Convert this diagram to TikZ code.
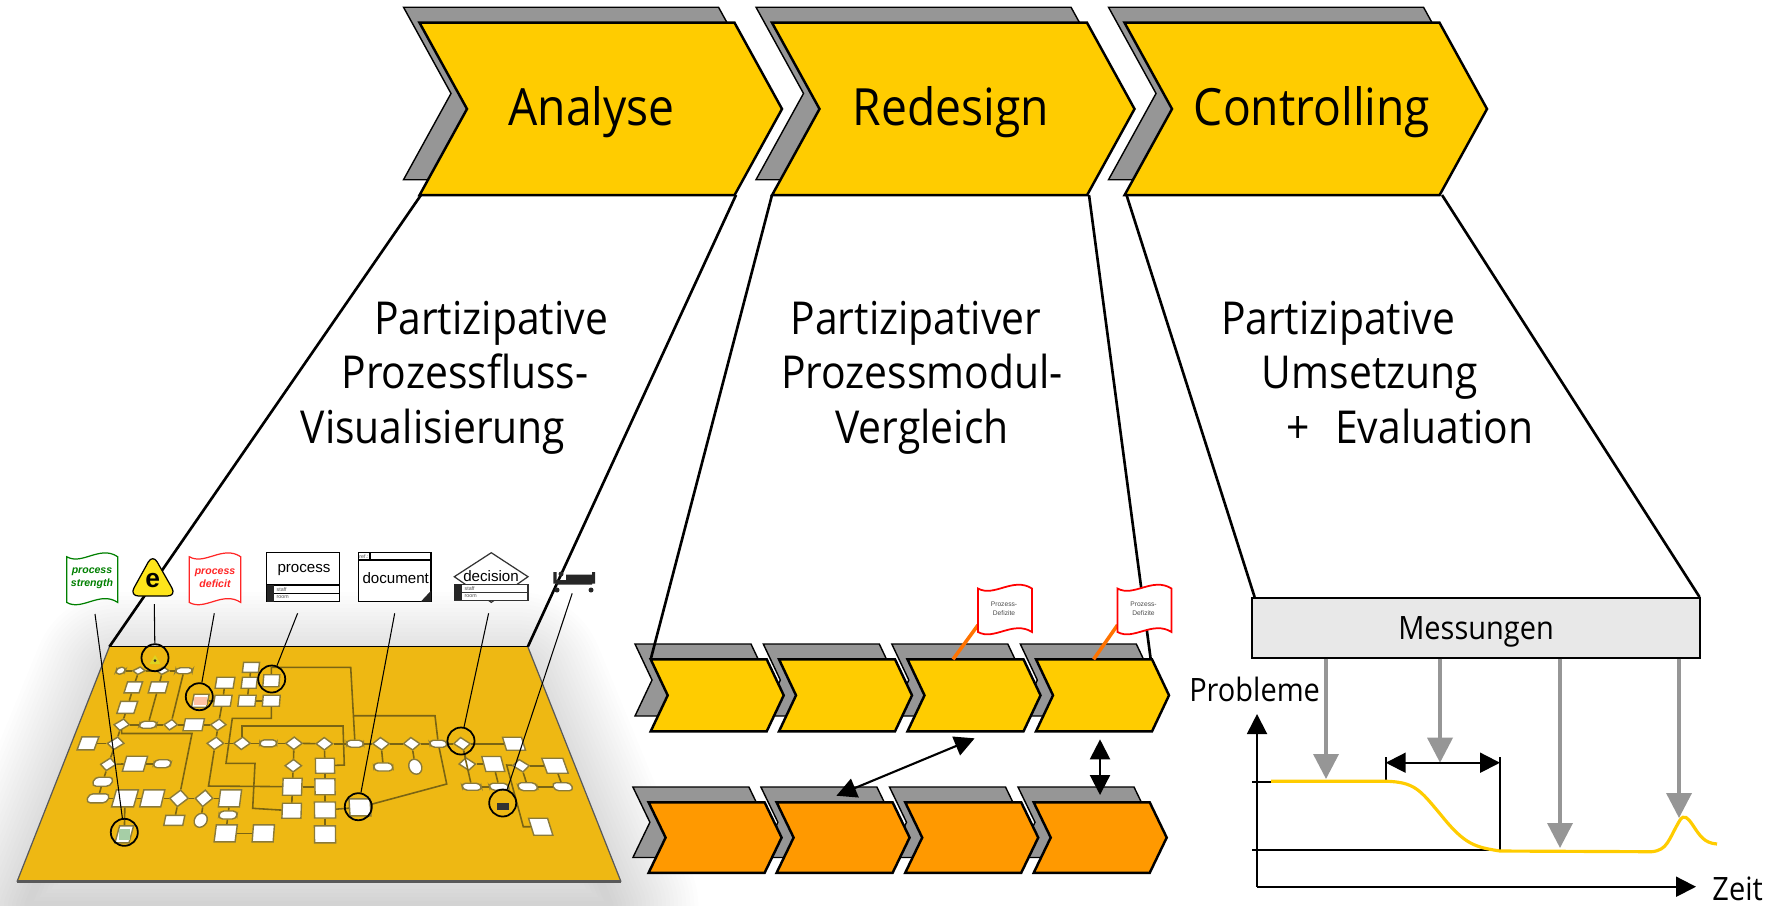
\documentclass[tikz,border=0pt]{standalone}
\usepackage{fontspec}
\setmainfont[FakeStretch=0.9]{Open Sans}
\newfontfamily\helvfont{Liberation Sans}
\usetikzlibrary{arrows.meta,positioning,shapes.geometric}
\definecolor{chevyellow}{HTML}{FFCC00}
\definecolor{chevorange}{HTML}{FF9900}
\definecolor{chevgray}{HTML}{969696}
\definecolor{plategold}{HTML}{EEB813}
\definecolor{miniedge}{HTML}{8A7A3A}
\definecolor{minilink}{HTML}{7A6413}
% chevron: x, y (top left), width, height, tip depth, style
\newcommand{\chevron}[6]{%
  \draw[#6] (#1,#2) -- (#1+#3-#5,#2) -- (#1+#3,#2+#4/2) -- (#1+#3-#5,#2+#4)
    -- (#1,#2+#4) -- (#1+#5,#2+#4/2) -- cycle;}
% wavy flag: x, y (top left), width, side height, style
\newcommand{\flagshape}[5]{%
  \draw[#5] (#1,#2) .. controls (#1+#3*.3,#2+9) and (#1+#3*.65,#2-12) .. (#1+#3,#2)
    -- (#1+#3,#2+#4) .. controls (#1+#3*.65,#2+#4-12) and (#1+#3*.3,#2+#4+9) .. (#1,#2+#4) -- cycle;}

\begin{document}
\begin{tikzpicture}[
    x=0.01cm, y=-0.01cm,
    >={Triangle[length=2mm,width=2mm]},
    line join=miter,
    chevbody/.style={draw=black, line width=0.7pt},
    chevshadow/.style={fill=chevgray},
    funnel/.style={draw=black, line width=0.75pt},
    headtext/.style={font=\fontsize{14.6}{16}\selectfont, anchor=base},
    steptext/.style={font=\fontsize{12.9}{14}\selectfont, anchor=base},
    labeltext/.style={font=\fontsize{9.15}{11}\selectfont, anchor=base},
    symboltext/.style={font=\helvfont\fontsize{4.3}{5}\selectfont, inner sep=0pt},
    flagtext/.style={font=\helvfont\bfseries\itshape\fontsize{3}{3.8}\selectfont, align=center, inner sep=0pt},
    tinytext/.style={font=\helvfont\fontsize{1.5}{2}\selectfont, inner sep=0pt, text=black!70},
    defflag/.style={draw=red, fill=white, line width=0.5pt},
    mbox/.style={rectangle, draw=miniedge, fill=white, line width=0.4pt, inner sep=0pt},
    mrnd/.style={mbox, rounded corners=1.2pt},
    mdia/.style={mbox, diamond},
    mell/.style={mbox, ellipse},
    mline/.style={draw=minilink, line width=0.45pt},
    lens/.style={circle, draw=black, line width=0.5pt, minimum size=0.27cm, inner sep=0pt},
    leader/.style={draw=black, line width=0.3pt},
    grayarrow/.style={draw=chevgray, line width=1pt, -{Triangle[length=2.5mm,width=2.5mm]}},
    axisline/.style={draw=black, line width=0.55pt},
]
  \useasboundingbox (0,0) rectangle (1774,905);

  % glow below the plate
  \begin{scope}
    \clip (0,0) rectangle (1774,905);
    \foreach \w in {8,16,...,176}
      \draw[black, opacity=0.009, line width=\w*0.01cm, line join=round]
        (120,680) -- (517,680) -- (610,905) -- (28,905) -- cycle;
  \end{scope}

  % top chevrons
  \foreach \x in {419.5,772,1124.5}
    {\chevron{\x-16}{22.7-15.5}{362.5}{172.5}{47.5}{chevshadow}}
  \foreach \x in {419.5,772,1124.5}
    {\chevron{\x}{22.7}{362.5}{172.5}{47.5}{chevbody, fill=chevyellow}}
  \node[headtext] (analyse) at (591.5,125.5) {Analyse};
  \node[headtext] (redesign) at (951,125.5) {Redesign};
  \node[headtext] (controlling) at (1312,125.5) {Controlling};

  % lower chevron rows
  \foreach \x in {650.7,779,907.5,1036}
    {\chevron{\x-15.7}{659.3-15.3}{133}{72}{17}{chevshadow}}
  \foreach \x in {648.6,776.6,905.2,1033.7}
    {\chevron{\x-15.7}{802.3-15.3}{133}{70.5}{17}{chevshadow}}

  % funnels
  \coordinate (anaL) at (421,195);
  \coordinate (anaR) at (736,195);
  \coordinate (redL) at (772,195);
  \coordinate (redR) at (1089,195);
  \coordinate (conL) at (1126.5,195);
  \coordinate (conR) at (1442,195);
  \coordinate (plateTL) at (109.4,646.7);
  \coordinate (plateTR) at (527.8,646.7);
  \coordinate (rowL) at (650.7,659.3);
  \coordinate (rowR) at (1150.7,659.3);
  \coordinate (messL) at (1254.6,597);
  \coordinate (messR) at (1699.5,597);
  \draw[funnel] (anaL) -- (plateTL);
  \draw[funnel] (anaR) -- (plateTR);
  \draw[funnel] (redL) -- (rowL);
  \draw[funnel] (redR) -- (rowR);
  \draw[funnel] (conL) -- (messL);
  \draw[funnel] (conR) -- (messR);

  \foreach \x in {650.7,779,907.5,1036}
    {\chevron{\x}{659.3}{133}{72}{17}{chevbody, fill=chevyellow}}
  \foreach \x in {648.6,776.6,905.2,1033.7}
    {\chevron{\x}{802.3}{133}{70.5}{17}{chevbody, fill=chevorange}}

  % step texts
  \node[steptext] (partA) at (491,334) {Partizipative};
  \node[steptext] (partB) at (465,388) {Prozessfluss-};
  \node[steptext] (partC) at (433,443) {Visualisierung};
  \node[steptext] (modA) at (916,334) {Partizipativer};
  \node[steptext] (modB) at (922,388) {Prozessmodul-};
  \node[steptext] (modC) at (922,443) {Vergleich};
  \node[steptext] (umsA) at (1338,334) {Partizipative};
  \node[steptext] (umsB) at (1370,388) {Umsetzung};
  \node[steptext] (umsC) at (1410,443) {+\hspace{7.2pt}Evaluation};

  % flags on the chevrons
  \coordinate (poleA) at (953,659.3);
  \coordinate (poleB) at (1093.6,659.3);
  \coordinate (flagA) at (978,625);
  \coordinate (flagB) at (1117.5,625);
  \draw[draw=orange!90!red, line width=1pt] (poleA) -- (flagA);
  \draw[draw=orange!90!red, line width=1pt] (poleB) -- (flagB);
  \flagshape{978}{588.5}{54}{43.5}{defflag}
  \flagshape{1117.5}{588.5}{54}{43.5}{defflag}
  \node[tinytext, font=\helvfont\fontsize{1.9}{2.6}\selectfont, align=center] (defA) at (1004,609) {Prozess-\\Defizite};
  \node[tinytext, font=\helvfont\fontsize{1.9}{2.6}\selectfont, align=center] (defB) at (1143.5,609) {Prozess-\\Defizite};

  % comparison arrows
  \coordinate (cmpA) at (974.6,738.3);
  \coordinate (cmpB) at (836.4,795.7);
  \coordinate (cmpC) at (1100,739.3);
  \coordinate (cmpD) at (1100,795);
  \draw[<->, line width=0.6pt] (cmpA) -- (cmpB);
  \draw[<->, line width=0.6pt] (cmpC) -- (cmpD);

  % measurements
  \node[draw=black, fill=black!9, line width=0.5pt, minimum width=4.48cm, minimum height=0.6cm,
        inner sep=0pt] (mess) at (1476,627.7) {};
  \node[labeltext] (messtext) at (1476,639) {Messungen};
  \coordinate (tipA) at (1326,779);
  \coordinate (tipB) at (1440,762.7);
  \coordinate (tipC) at (1560,848);
  \coordinate (tipD) at (1679,818);
  \foreach \t in {tipA,tipB,tipC,tipD}
    \draw[grayarrow] (mess.south -| \t) -- (\t);

  % chart
  \coordinate (origin) at (1257,886.7);
  \coordinate (yEnd) at (1257,714);
  \coordinate (xEnd) at (1696,886.7);
  \coordinate (levA) at (1252,781.7);
  \coordinate (levB) at (1252,850);
  \coordinate (markA) at (1385.7,756.7);
  \coordinate (markB) at (1500,756.7);
  \draw[axisline, ->] (origin) -- (yEnd);
  \draw[axisline, ->] (origin) -- (xEnd);
  \draw[axisline] (levA) -- (levA -| markA) -- (markA);
  \draw[axisline] (levB) -- (levB -| markB) -- (markB);
  \draw[axisline, <->] (1385.7,762.7) -- (1500,762.7);
  \draw[chevyellow, line width=0.9pt] (1271,781.2) -- (1385.7,781.2)
    .. controls (1415,782) and (1420,790) .. (1441,815)
    .. controls (1465,845) and (1475,847) .. (1500,851) -- (1651.6,851.7)
    .. controls (1668,850) and (1668,840) .. (1680,820)
    .. controls (1684,814) and (1688,818) .. (1692,824)
    .. controls (1700,836) and (1704,843) .. (1717,844);
  \node[labeltext] (probleme) at (1254.6,701) {Probleme};
  \node[labeltext] (zeit) at (1737.6,900) {Zeit};

  % process plate
  \fill[plategold] (plateTL) -- (plateTR) -- (621,881.7) -- (17,881.7) -- cycle;
  \draw[draw=black!65, line width=0.35pt] (plateTL) -- (17,881.7);
  \draw[draw=black!65, line width=0.35pt] (plateTR) -- (621,881.7);
  \draw[draw=black!65, line width=0.7pt] (17,881.7) -- (621,881.7);
  \draw[draw=black, line width=0.35pt] (plateTL) -- (plateTR);

  % miniature flow chart
  \foreach \nm/\st/\x/\y/\w/\h in {
    a1/mrnd/120.7/670.7/9/7, a2/mdia/139/670.7/13/8, a3/mdia/162.7/670.7/13/8, a4/mrnd/184/670.7/17/6,
    b1/mbox/133.3/687.3/15/11, b2/mbox/158.3/687.3/17/11, c1/mbox/127.3/707.3/17/12,
    d1/mdia/121.7/724.7/16/12, d2/mrnd/148/724.7/17/7, d3/mdia/170.7/724.7/14/11, d4/mbox/193.7/724.7/19/12, d5/mdia/218.3/724.7/16/12,
    e1/mbox/251/667.3/16/10, e2/mbox/249.3/682.7/15/11, e3/mbox/271.3/680.7/16/12, e4/mbox/225/682.7/18/11,
    f1/mbox/222.7/700.7/17/11, f2/mbox/247/700.7/17/11, f3/mbox/271.3/700.7/17/11,
    g1/mbox/88/743.3/17/13, g2/mdia/115.7/743.3/17/13, g3/mdia/215.3/743.3/17/13, g4/mdia/242/743.3/17/13, g5/mrnd/268.3/743.3/17/7, g6/mdia/294/743.3/17/13,
    h1/mdia/108.3/764.3/16/13, h2/mbox/135/763.7/21/15, h3/mrnd/162.3/763.7/17/8, h4/mdia/293.3/765.7/17/13,
    i1/mrnd/102.7/781.7/19/9, j1/mrnd/98/798.3/21/9, j2/mbox/125/798.3/22/17, j3/mbox/152.3/798.3/21/17,
    j4/mdia/179/798.3/19/17, j5/mdia/204/798.3/18/17, j6/mbox/230/798.3/21/17, j7/mbox/292.3/786.7/19/17,
    k1/mrnd/228/815/18/8, k2/mbox/291.7/810.7/19/15, k3/mbox/174.3/820.3/19/10, k4/mell/200.7/820.3/13/14,
    l1/mbox/225.7/833.3/21/17, l2/mbox/263.3/833.3/21/17,
    m1/mdia/324.3/743.7/17/13, m2/mrnd/355/743.7/17/7, m3/mdia/381/743.7/17/13, m4/mdia/411.7/743.7/17/13, m5/mrnd/438.3/743.7/17/7, m6/mdia/462/743.7/17/13, m7/mbox/514/743.7/19/13,
    n1/mbox/325/765.7/19/15, n2/mrnd/383.3/767/19/8, n3/mell/415.3/766.7/13/15, n4/mdia/467.3/764/17/13, n5/mbox/493.3/764/19/15, n6/mdia/521/765.7/17/13, n7/mbox/555/765.7/21/15,
    o1/mbox/325/786.7/20/16, o2/mrnd/471.7/786.7/19/7, o3/mrnd/499/786.7/19/7, o4/mrnd/527.7/786.7/19/8, o5/mrnd/562.7/786.7/19/8,
    p1/mbox/325/810/21/16, p2/mbox/360/807.3/21/17, q1/mbox/325/834.3/21/17, r1/mbox/540.7/826.7/19/17,
    defbox/mbox/200.3/700.7/15/13, strbox/mbox/124.3/834.3/14/17} {
    \pgfmathsetmacro{\sl}{-(\x-319)/(\y-115)}
    \begin{scope}[shift={(\x,\y)}, xslant=\sl, transform shape]
      \node[\st, minimum width=\w*0.01cm, minimum height=\h*0.01cm] (\nm) {};
    \end{scope}
  }
  \fill[red!35!orange!35!white] (194,697) rectangle (207,705);
  \fill[green!45!black!35!white] (118.5,829) rectangle (130,840);

  \foreach \a/\b in {a1/a2,a2/a3,a3/a4,a2/b1,a3/b2,b1/c1,c1/d1,b2/d2,a4/d3,d1/d2,d2/d3,d3/d4,d4/d5,d1/g2,g2/g1,g2/h1,
      h1/h2,h2/h3,h1/i1,i1/j1,j1/j2,j2/j3,j3/j4,j4/j5,j5/j6,j4/k3,j5/k4,j6/k1,k1/l1,l1/l2,e1/e2,e2/f2,e4/f1,f1/d5,
      d5/g3,g3/g4,g4/g5,g5/g6,g6/m1,m1/m2,m2/m3,m3/m4,m4/m5,m5/m6,m6/m7,g6/h4,h4/j7,m1/n1,n1/o1,o1/p1,p1/q1,j7/o1,
      p1/p2,k2/j7,m3/n2,m4/n3,m6/n4,n4/n5,n5/o3,o2/o3,m6/o2,n6/n7,n6/o4,o4/o5,n7/o5,f2/f3,defbox/f1,j2/strbox}
    \draw[mline] (\a) -- (\b);
  \draw[mline] (d1) |- (192,733.5) -- (j4);
  \draw[mline] (f3) |- (232.3,718.3) -- (226,763.3) -- (255,763.3) -- (252.7,808.3) -- (k2);
  \draw[mline] (g3) -- (208.5,786) -- (j7);
  \draw[mline] (g4) |- (343,726) -- (344.3,765) -- (n1);
  \draw[mline] (e3) |- (350.7,667.3) -- (m2);
  \draw[mline] (353,715.7) -- (435,715.7) -- (m5);
  \draw[mline] (m5) -- (446.7,784) -- (p2);
  \draw[mline] (n6) -- (506.7,765) -- (523.3,826.7) -- (r1);

  % small marks inside the lenses
  \fill[yellow!85!black] (155,655) -- (160.5,664) -- (149.5,664) -- cycle;
  \fill[black!80] (155,660.5) circle (0.015cm);
  \fill[black!80] (496.7,802.7) rectangle (509.3,810);

  % symbols above the plate
  \flagshape{66.7}{556.7}{51}{45.7}{draw=green!50!black, fill=white, line width=0.35pt}
  \node[flagtext, text=green!50!black] (strength) at (92,578) {process\\strength};
  \draw[fill=yellow!85!orange!90!white, draw=black, line width=0.35pt, rounded corners=2.6pt]
    (152.7,554) -- (176.5,596) -- (129.5,596) -- cycle;
  \node[font=\helvfont\bfseries\fontsize{7.5}{8}\selectfont, inner sep=0pt] (signE) at (152.7,581) {e};
  \flagshape{189.3}{556.7}{51.4}{45.7}{draw=red!85!white, fill=white, line width=0.35pt}
  \node[flagtext, text=red!85!white] (deficit) at (215,578) {process\\deficit};

  \draw[draw=black, fill=white, line width=0.35pt] (266.5,552.3) rectangle (339.6,601.7);
  \draw[draw=black, line width=0.35pt] (266.5,585) -- (339.6,585) (266.5,593.3) -- (339.6,593.3);
  \fill[black!85] (266.5,585) rectangle (274.3,601.7);
  \node[symboltext] (process) at (304,570) {process};
  \node[tinytext, anchor=west] (staffA) at (276,589.2) {staff};
  \node[tinytext, anchor=west] (roomA) at (276,597.5) {room};

  \draw[draw=black, fill=white, line width=0.35pt] (358.3,552.7) rectangle (431,601.7);
  \draw[draw=black, line width=0.35pt] (358.3,560) -- (431,560) (370,552.7) -- (370,560);
  \fill[black!85] (420.7,601.7) -- (431,601.7) -- (431,590.7) -- cycle;
  \node[tinytext] (refnum) at (364,556.4) {ref.:};
  \node[symboltext] (document) at (395.7,578.3) {document};

  \draw[draw=black!80, fill=white, line width=0.35pt] (491.3,552.7) -- (528,576.7) -- (491.3,602.3) -- (454.3,576.7) -- cycle;
  \draw[draw=black!80, fill=white, line width=0.35pt] (454.3,584.3) rectangle (528,600.3);
  \draw[draw=black!80, line width=0.35pt] (454.3,592.3) -- (528,592.3);
  \fill[black!85] (454.3,584.3) rectangle (462.3,600.3);
  \node[symboltext] (decision) at (491,576) {decision};
  \node[tinytext, anchor=west] (staffB) at (464,588.3) {staff};
  \node[tinytext, anchor=west] (roomB) at (464,596.4) {room};

  % bed
  \fill[black!85] (553.3,572) rectangle (556.5,583.5) (592,572) rectangle (595,583.5)
    (556,580) rectangle (592,584.5) (566,574.5) rectangle (592,580);
  \fill[black!85] (557,590) circle (0.025cm) (591,590) circle (0.025cm) (561,574) circle (0.025cm);

  % lenses and their leaders
  \node[lens] (lensS) at (124.3,832.3) {};
  \node[lens] (lensE) at (155,657.7) {};
  \node[lens] (lensD) at (199.3,696.7) {};
  \node[lens] (lensP) at (271.7,679) {};
  \node[lens] (lensO) at (358.3,806.7) {};
  \node[lens] (lensI) at (461,741) {};
  \node[lens] (lensB) at (502.7,803) {};
  \coordinate (fromS) at (95,614);
  \coordinate (fromE) at (154.3,604);
  \coordinate (fromD) at (214.3,613.3);
  \coordinate (fromP) at (297.6,613.3);
  \coordinate (fromO) at (394.7,613.3);
  \coordinate (fromI) at (488.6,613.3);
  \coordinate (fromB) at (572.2,593.3);
  \foreach \f/\t in {fromS/lensS,fromE/lensE,fromD/lensD,fromP/lensP,fromO/lensO,fromI/lensI,fromB/lensB}
    \draw[leader] (\f) -- (\t);
\end{tikzpicture}
\end{document}
